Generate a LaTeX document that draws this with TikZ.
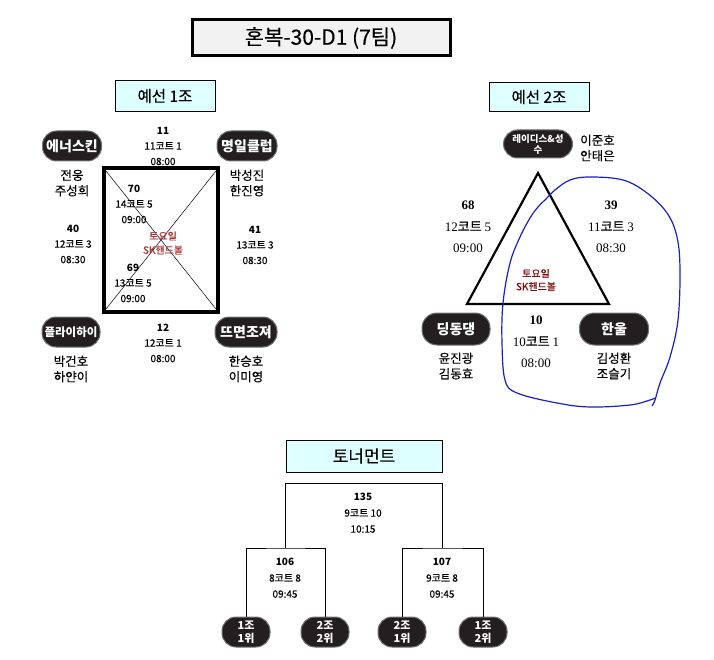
\documentclass[tikz,border=0pt]{standalone}
\usepackage{fontspec}
\setmainfont{Noto Sans CJK KR}[UprightFeatures={FakeBold=0.35}]
\newfontfamily\tms{Liberation Serif}
\usepackage{tikz}
\definecolor{pilldark}{RGB}{35,31,32}
\definecolor{hdrcyan}{RGB}{221,255,255}
\definecolor{ttlgray}{RGB}{242,242,242}
\definecolor{satred}{RGB}{170,50,50}
\definecolor{satdark}{RGB}{130,10,10}
\definecolor{inkblue}{RGB}{25,30,200}
\newcommand{\fs}[2]{\fontsize{#1}{#2}\selectfont}

\begin{document}
\begin{tikzpicture}[x=1pt,y=-1pt,
  pill/.style={fill=pilldark,draw=black!55,line width=1,rounded corners=14,text=white,
    font=\bfseries\fs{14}{15},minimum height=30,inner sep=1,align=center},
  hdr/.style={fill=hdrcyan,draw=black,line width=0.8,minimum width=100,minimum height=31,font=\fs{15.5}{17}},
  names/.style={font=\fs{12.5}{15.5},align=center,inner sep=0},
  small/.style={font=\fs{10}{15.5},align=center,inner sep=0},
  big/.style={font=\fs{13}{21.5},align=center,inner sep=0},
  sat/.style={font=\fs{10}{14},align=center,inner sep=0}]
  \useasboundingbox (0,0) rectangle (714,660);
  % title
  \node[fill=ttlgray,draw=black,line width=3,minimum width=258,minimum height=36,font=\fs{21}{22}] (ttl) at (321,38) {혼복-30-D1 (7팀)};
  % group 1
  \node[hdr] (h1) at (165,96) {예선 1조};
  \node[draw=black,line width=3.5,minimum width=114,minimum height=144,inner sep=0] (sq1) at (161,240) {};
  \draw[line width=0.5] (sq1.north west) -- (sq1.south east);
  \draw[line width=0.5] (sq1.north east) -- (sq1.south west);
  \node[pill,minimum width=59] (p1) at (72,146) {에너스킨};
  \node[pill,minimum width=60] (p2) at (247,146) {명일클럽};
  \node[pill,minimum width=58,font=\bfseries\fs{11.5}{12}] (p3) at (71,332) {플라이하이};
  \node[pill,minimum width=62] (p4) at (246,332) {뜨면조져};
  \node[names] (n1) at (72,183) {전웅\\주성희};
  \node[names] (n2) at (247,183) {박성진\\한진영};
  \node[names] (n3) at (71,369) {박건호\\하얀이};
  \node[names] (n4) at (246,369) {한승호\\이미영};
  \node[small] (m11) at (163,146) {\textbf{11}\\11코트 1\\08:00};
  \node[small] (m40) at (73,244) {\textbf{40}\\12코트 3\\08:30};
  \node[small] (m41) at (255,245) {\textbf{41}\\13코트 3\\08:30};
  \node[small] (m12) at (163,343) {\textbf{12}\\12코트 1\\08:00};
  \node[small] (m70) at (134,204) {\textbf{70}\\14코트 5\\09:00};
  \node[small] (m69) at (133,283) {\textbf{69}\\13코트 5\\09:00};
  \node[sat,text=satred] (c1) at (163,243) {토요일\\SK핸드볼};
  % group 2
  \node[hdr,minimum height=29] (h2) at (539,97) {예선 2조};
  \coordinate (t2a) at (538,173);
  \coordinate (t2b) at (467,304);
  \coordinate (t2c) at (609,304);
  \draw[line width=2.2,line join=miter] (t2a) -- (t2b) -- (t2c) -- cycle;
  \node[pill,minimum width=69,minimum height=28,font=\bfseries\fs{9.5}{11}] (p5) at (538,144) {레이디스\&성\\수};
  \node[pill,minimum width=68,minimum height=32,rounded corners=15] (p6) at (456,329) {딩동댕};
  \node[pill,minimum width=69,minimum height=32,rounded corners=15] (p7) at (614,329) {한울};
  \node[names,anchor=west] (n5) at (580,148) {이준호\\안태은};
  \node[names] (n6) at (456,366) {윤진광\\김동효};
  \node[names] (n7) at (614,366) {김성환\\조슬기};
  \node[big] (m68) at (468,227) {{\tms\bfseries 68}\\{\tms 12}코트 {\tms 5}\\{\tms 09:00}};
  \node[big] (m39) at (611,227) {{\tms\bfseries 39}\\{\tms 11}코트 {\tms 3}\\{\tms 08:30}};
  \node[big] (m10) at (536,342) {{\tms\bfseries 10}\\{\tms 10}코트 {\tms 1}\\{\tms 08:00}};
  \node[sat,text=satdark,font=\fs{10}{13}] (c2) at (536,280) {토요일\\SK핸드볼};
  \draw[inkblue,line width=1.2] plot[smooth,tension=0.6] coordinates {(652,406) (655,400) (660,383) (670,357) (678,320) (680,270) (677,237) (667,213) (647,193) (623,180) (590,177) (570,180) (555,190) (546,199) (538,207) (530,218) (520,237) (510,263) (503,303) (502,343) (505,380) (517,393) (557,403) (590,407) (630,405) (650,400) (655,398)};
  % tournament
  \node[hdr,minimum width=156,minimum height=32,font=\fs{17}{18}] (h3) at (364,456) {토너먼트};
  \node[pill,minimum width=48,font=\bfseries\fs{11}{13}] (q1) at (246,632) {1조\\1위};
  \node[pill,minimum width=48,font=\bfseries\fs{11}{13}] (q2) at (325,632) {2조\\2위};
  \node[pill,minimum width=48,font=\bfseries\fs{11}{13}] (q3) at (402,632) {2조\\1위};
  \node[pill,minimum width=48,font=\bfseries\fs{11}{13}] (q4) at (483,632) {1조\\2위};
  \coordinate (j106) at (285.5,548);
  \coordinate (j107) at (442.5,548);
  \draw[line width=0.8] (q1.north) |- (j106) -| (q2.north);
  \draw[line width=0.8] (q3.north) |- (j107) -| (q4.north);
  \draw[line width=0.8] (j106) -- ++(0,-65) -| (j107);
  \node[small,font=\fs{10}{16}] (m135) at (363,513) {\textbf{135}\\9코트 10\\10:15};
  \node[small,font=\fs{10}{16}] (m106) at (285,578) {\textbf{106}\\8코트 8\\09:45};
  \node[small,font=\fs{10}{16}] (m107) at (442,578) {\textbf{107}\\9코트 8\\09:45};
\end{tikzpicture}
\end{document}
